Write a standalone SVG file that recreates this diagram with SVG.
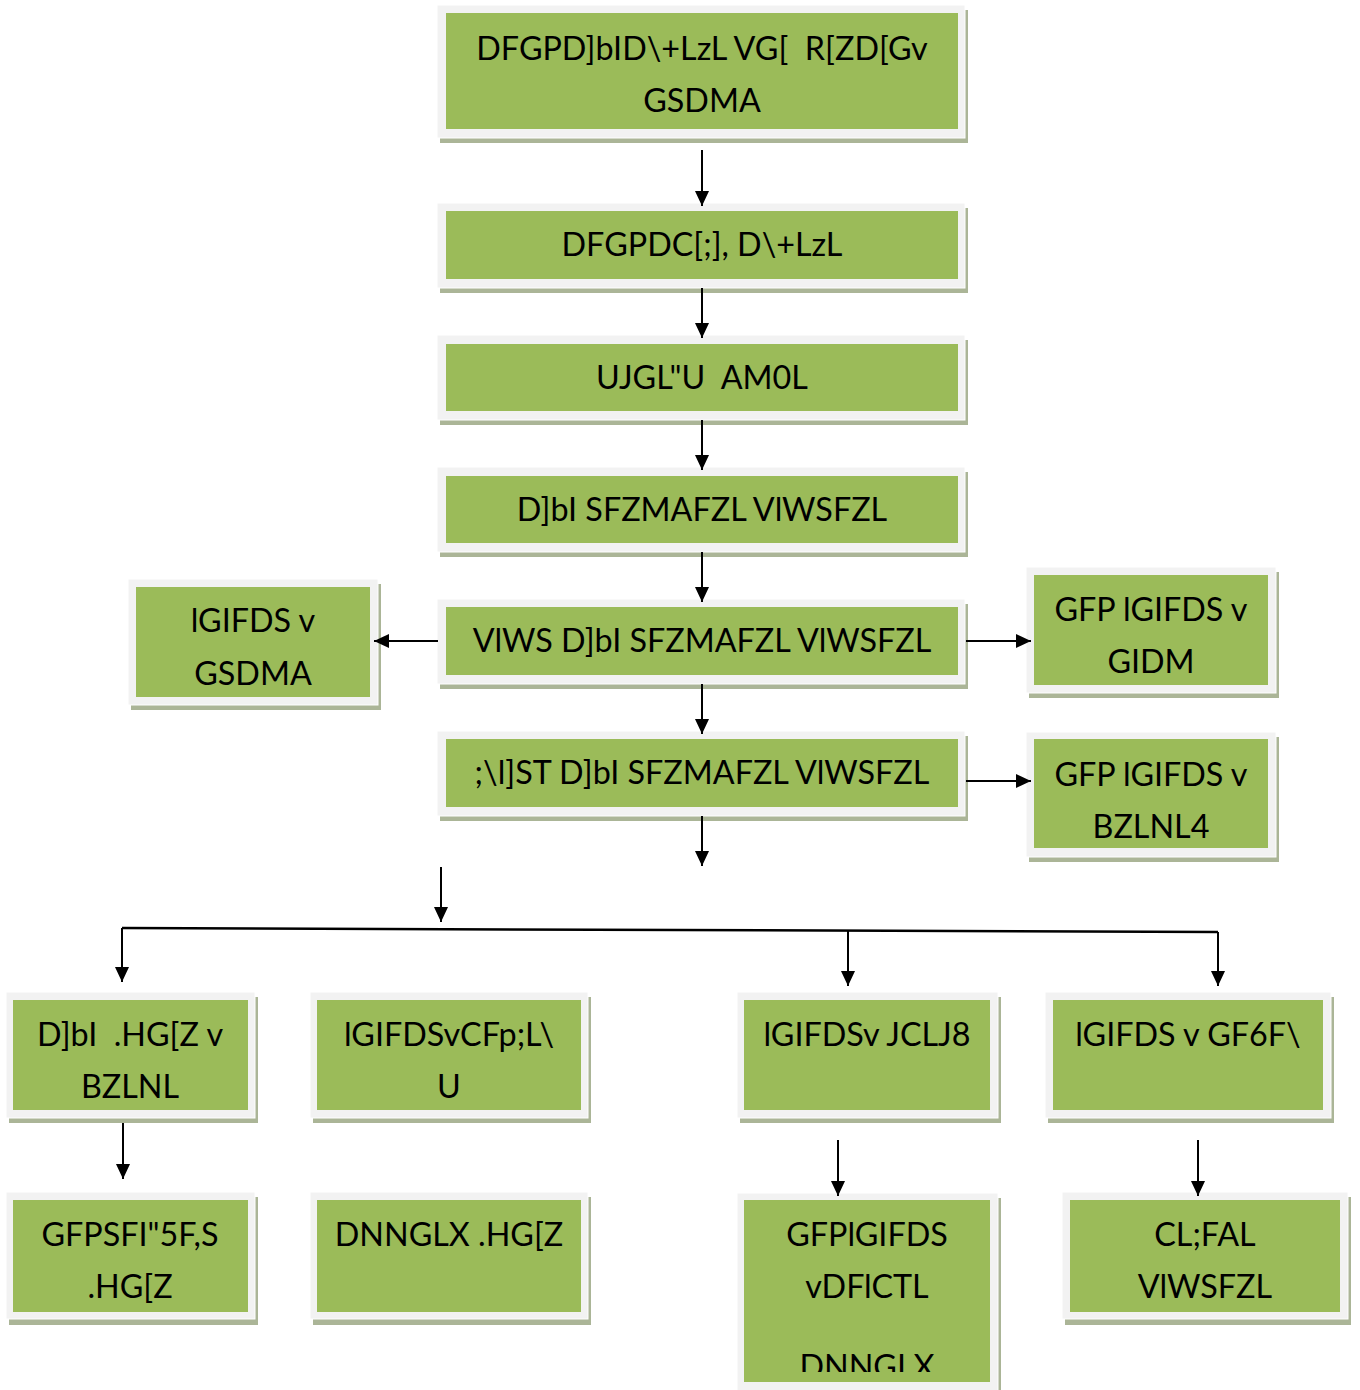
<svg xmlns="http://www.w3.org/2000/svg" width="1360" height="1390" viewBox="0 0 1360 1390">
<defs>
<style>
.sh{fill:#abb597}
.fr{fill:#f2f2f2;stroke:#ffffff;stroke-width:1}
.gr{fill:#9bbb59}
.t{font-family:Lato,"Liberation Sans",sans-serif;font-size:32.3px;fill:#000;text-anchor:middle;white-space:pre}
.c{stroke:#000;stroke-width:2;fill:none;marker-end:url(#ah)}
.cl{stroke:#000;stroke-width:2.5;fill:none}
</style>
<marker id="ah" markerUnits="userSpaceOnUse" markerWidth="15" markerHeight="14" refX="15" refY="7" orient="auto" viewBox="0 0 15 14">
<path d="M0,0 L15,7 L0,14 z" fill="#000"/>
</marker>
<clipPath id="clipB7"><rect x="744" y="1200" width="246" height="172"/></clipPath>
</defs>
<rect width="1360" height="1390" fill="#ffffff"/>

<g id="n1">
<rect class="sh" x="440" y="10" width="528" height="133"/>
<rect class="fr" x="437" y="5" width="528" height="133"/>
<rect class="gr" x="446" y="13" width="512" height="116"/>
<text class="t" x="702" y="60">DFGPD]bID\+LzL VG[  R[ZD[Gv</text>
<text class="t" x="702" y="112">GSDMA</text>
</g>

<g id="n2">
<rect class="sh" x="440" y="208" width="528" height="85"/>
<rect class="fr" x="437" y="203" width="528" height="85"/>
<rect class="gr" x="446" y="211" width="512" height="68"/>
<text class="t" x="702" y="256">DFGPDC[;], D\+LzL</text>
</g>

<g id="n3">
<rect class="sh" x="440" y="340" width="528" height="85"/>
<rect class="fr" x="437" y="335" width="528" height="85"/>
<rect class="gr" x="446" y="344" width="512" height="67"/>
<text class="t" x="702" y="389">UJGL"U  AM0L</text>
</g>

<g id="n4">
<rect class="sh" x="440" y="472" width="528" height="85"/>
<rect class="fr" x="437" y="467" width="528" height="85"/>
<rect class="gr" x="446" y="476" width="512" height="67"/>
<text class="t" x="702" y="521">D]bI SFZMAFZL VlWSFZL</text>
</g>

<g id="n5">
<rect class="sh" x="440" y="604" width="528" height="85"/>
<rect class="fr" x="437" y="599" width="528" height="85"/>
<rect class="gr" x="446" y="607" width="512" height="68"/>
<text class="t" x="702" y="652">VlWS D]bI SFZMAFZL VlWSFZL</text>
</g>

<g id="n6">
<rect class="sh" x="440" y="736" width="528" height="85"/>
<rect class="fr" x="437" y="731" width="528" height="85"/>
<rect class="gr" x="446" y="739" width="512" height="68"/>
<text class="t" x="702" y="784">;\l]ST D]bI SFZMAFZL VlWSFZL</text>
</g>

<g id="nL">
<rect class="sh" x="131" y="584" width="250" height="126"/>
<rect class="fr" x="128" y="579" width="250" height="126"/>
<rect class="gr" x="136" y="587" width="234" height="110"/>
<text class="t" x="253" y="632">lGIFDS v</text>
<text class="t" x="253" y="685">GSDMA</text>
</g>

<g id="nR1">
<rect class="sh" x="1029" y="572" width="250" height="126"/>
<rect class="fr" x="1026" y="567" width="250" height="126"/>
<rect class="gr" x="1034" y="575" width="234" height="110"/>
<text class="t" x="1151" y="621">GFP lGIFDS v</text>
<text class="t" x="1151" y="673">GIDM</text>
</g>

<g id="nR2">
<rect class="sh" x="1029" y="737" width="250" height="125"/>
<rect class="fr" x="1026" y="732" width="250" height="125"/>
<rect class="gr" x="1034" y="739" width="234" height="109"/>
<text class="t" x="1151" y="786">GFP lGIFDS v</text>
<text class="t" x="1151" y="838">BZLNL4</text>
</g>

<g id="b1">
<rect class="sh" x="9" y="997" width="249" height="126"/>
<rect class="fr" x="6" y="992" width="249" height="126"/>
<rect class="gr" x="13" y="1000" width="235" height="110"/>
<text class="t" x="130" y="1046">D]bI  .HG[Z v</text>
<text class="t" x="130" y="1098">BZLNL</text>
</g>

<g id="b2">
<rect class="sh" x="313" y="997" width="278" height="126"/>
<rect class="fr" x="310" y="992" width="278" height="126"/>
<rect class="gr" x="317" y="1000" width="264" height="110"/>
<text class="t" x="449" y="1046">lGIFDSvCFp;L\</text>
<text class="t" x="449" y="1098">U</text>
</g>

<g id="b3">
<rect class="sh" x="740" y="997" width="261" height="126"/>
<rect class="fr" x="737" y="992" width="261" height="126"/>
<rect class="gr" x="744" y="1000" width="246" height="110"/>
<text class="t" x="867" y="1046">lGIFDSv JCLJ8</text>
</g>

<g id="b4">
<rect class="sh" x="1048" y="997" width="286" height="126"/>
<rect class="fr" x="1045" y="992" width="286" height="126"/>
<rect class="gr" x="1053" y="1000" width="270" height="110"/>
<text class="t" x="1188" y="1046">lGIFDS v GF6F\</text>
</g>

<g id="b5">
<rect class="sh" x="9" y="1197" width="249" height="128"/>
<rect class="fr" x="6" y="1192" width="249" height="127"/>
<rect class="gr" x="13" y="1200" width="235" height="112"/>
<text class="t" x="130" y="1246">GFPSFI"5F,S</text>
<text class="t" x="130" y="1298">.HG[Z</text>
</g>

<g id="b6">
<rect class="sh" x="313" y="1197" width="278" height="128"/>
<rect class="fr" x="310" y="1192" width="278" height="127"/>
<rect class="gr" x="317" y="1200" width="264" height="112"/>
<text class="t" x="449" y="1246">DNNGLX .HG[Z</text>
</g>

<g id="b7">
<rect class="sh" x="740" y="1198" width="261" height="200"/>
<rect class="fr" x="737" y="1193" width="261" height="200"/>
<rect class="gr" x="744" y="1200" width="246" height="182"/>
<text class="t" x="867" y="1246">GFPlGIFDS</text>
<text class="t" x="867" y="1298">vDFlCTL</text>
<text class="t" x="867" y="1378" clip-path="url(#clipB7)">DNNGLX</text>
</g>

<g id="b8">
<rect class="sh" x="1065" y="1197" width="286" height="128"/>
<rect class="fr" x="1062" y="1192" width="286" height="127"/>
<rect class="gr" x="1070" y="1200" width="270" height="112"/>
<text class="t" x="1205" y="1246">CL;FAL</text>
<text class="t" x="1205" y="1298">VlWSFZL</text>
</g>

<g id="connectors">
<line class="c" x1="702" y1="150" x2="702" y2="206"/>
<line class="c" x1="702" y1="288" x2="702" y2="338"/>
<line class="c" x1="702" y1="420" x2="702" y2="470"/>
<line class="c" x1="702" y1="552" x2="702" y2="602"/>
<line class="c" x1="702" y1="684" x2="702" y2="734"/>
<line class="c" x1="702" y1="816" x2="702" y2="866"/>
<line class="c" x1="438" y1="641" x2="374" y2="641"/>
<line class="c" x1="966" y1="641" x2="1031" y2="641"/>
<line class="c" x1="966" y1="781" x2="1031" y2="781"/>
<line class="c" x1="441" y1="867" x2="441" y2="922"/>
<line class="cl" x1="122" y1="928" x2="1218" y2="932"/>
<line class="c" x1="122" y1="928" x2="122" y2="982"/>
<line class="c" x1="848" y1="931" x2="848" y2="986"/>
<line class="c" x1="1218" y1="932" x2="1218" y2="986"/>
<line class="c" x1="123" y1="1123" x2="123" y2="1179"/>
<line class="c" x1="838" y1="1140" x2="838" y2="1196"/>
<line class="c" x1="1198" y1="1140" x2="1198" y2="1196"/>
</g>
</svg>
